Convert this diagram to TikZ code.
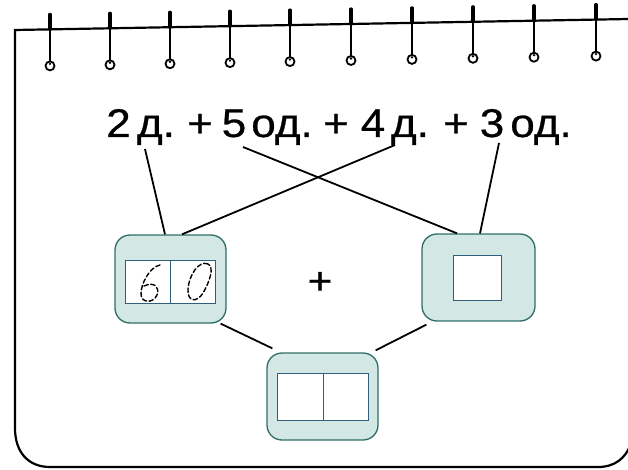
\documentclass[tikz,border=0pt]{standalone}
\usepackage{fontspec}
\setmainfont{Liberation Sans}
\newfontfamily\exprfont[FakeBold=0.6,FakeStretch=1.1]{Liberation Sans}
\definecolor{boxfill}{HTML}{D3E8E5}
\definecolor{boxedge}{HTML}{2E6E66}
\definecolor{celledge}{HTML}{2F5F7A}
\begin{document}
\begin{tikzpicture}[x=1pt,y=-1pt,
  frame/.style={line width=2.2pt,black},
  conn/.style={line width=1.8pt,black},
  tok/.style={font=\exprfont\fontsize{40}{44}\selectfont,inner sep=0pt,anchor=base},
  bigbox/.style={draw=boxedge,fill=boxfill,line width=1.3pt,rounded corners=15pt,inner sep=0pt},
  cell/.style={draw=celledge,fill=white,line width=1pt,inner sep=0pt},
  digit/.style={line width=1.4pt,dash pattern=on 4.5pt off 2.5pt,line cap=round}]
\useasboundingbox (0,0) rectangle (628,470);
% notebook frame
\draw[frame] (640,18.8) -- (15,30) -- (15,428) .. controls (15,452) and (28,467) .. (50,467) -- (598,467) .. controls (615,467) and (625,458) .. (630,446);
% rings
\foreach \xx in {50,110,170,230,290,351,412,473,534,596}{
  \pgfmathsetmacro{\yl}{30-(\xx-15)*11.2/625}
  \draw[line width=3.2pt,line cap=round] (\xx,\yl-15) -- (\xx,\yl);
  \draw[line width=2.2pt] (\xx,\yl) -- (\xx,\yl+32);
  \draw[line width=1.8pt,fill=white] (\xx,\yl+36.5) circle (4.5pt);
  \fill (\xx,\yl+34.5) circle (1.3pt);
}
% expression
\node[tok] (n2) at (118.5,137) {2};
\node[tok] (d1) at (156,137) {д.};
\node[tok] (p1) at (200,137) {+};
\node[tok] (n5) at (234,137) {5};
\node[tok] (o1) at (282,137) {од.};
\node[tok] (p2) at (336,137) {+};
\node[tok] (n4) at (373,137) {4};
\node[tok] (d2) at (410,137) {д.};
\node[tok] (p3) at (456,137) {+};
\node[tok] (n3) at (492,137) {3};
\node[tok] (o2) at (541,137) {од.};
\coordinate (t2) at (145,149);
\coordinate (t5) at (243,147);
\coordinate (t4) at (395,145);
\coordinate (t3) at (499,143);
% boxes
\node[bigbox,minimum width=111pt,minimum height=88pt] (L) at (170.5,279) {};
\node[cell,minimum width=45pt,minimum height=43pt] (L1) at (147.5,281.5) {};
\node[cell,minimum width=45pt,minimum height=43pt] (L2) at (192.5,281.5) {};
\node[bigbox,minimum width=113pt,minimum height=87pt] (R) at (478.5,277.5) {};
\node[cell,minimum width=48pt,minimum height=45pt] (R1) at (477,277.5) {};
\node[bigbox,minimum width=111pt,minimum height=87pt] (B) at (322.5,396.5) {};
\node[cell,minimum width=46pt,minimum height=47pt] (B1) at (300,396.5) {};
\node[cell,minimum width=45pt,minimum height=47pt] (B2) at (345.5,396.5) {};
\node[font=\exprfont\fontsize{38}{40}\selectfont,inner sep=0pt] (plus) at (320,283) {+};
% dashed digits
\draw[digit] (160,265) .. controls (150,267) and (141,283) .. (141,294) .. controls (141,303) and (153,304) .. (157,295) .. controls (160,288) and (155,281) .. (144,286);
\draw[digit] (208,264) .. controls (199,260) and (189,275) .. (188,289) .. controls (187,302) and (197,303) .. (203,293) .. controls (209,283) and (215,267) .. (208,264);
% connectors
\draw[conn] (t2) -- ([xshift=-5.5pt]L.north);
\draw[conn] (t4) -- ([xshift=11.5pt]L.north);
\draw[conn] (t5) -- ([xshift=-21.5pt]R.north);
\draw[conn] (t3) -- ([xshift=1.5pt]R.north);
\draw[conn] ([xshift=-6pt,yshift=0pt]L.south east) -- ([xshift=6pt,yshift=4pt]B.north west);
\draw[conn] ([xshift=5pt,yshift=-3pt]R.south west) -- ([xshift=-3pt,yshift=2pt]B.north east);
\end{tikzpicture}
\end{document}
